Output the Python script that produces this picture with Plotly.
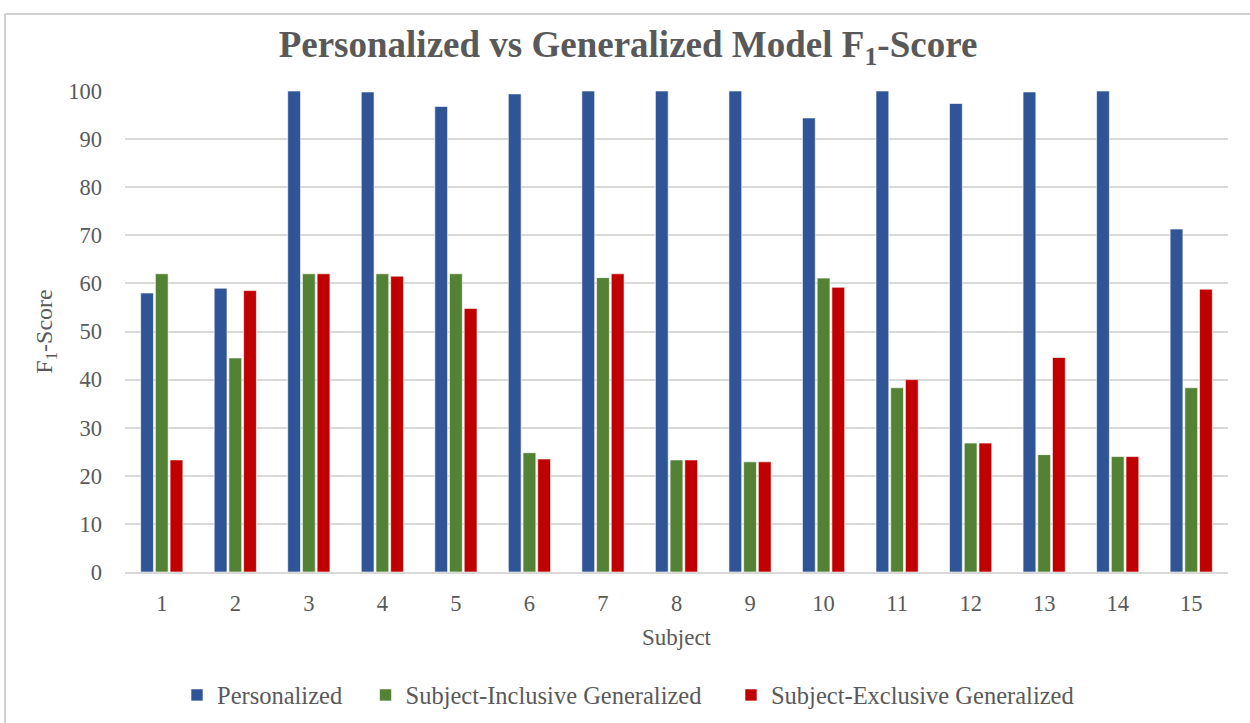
import plotly.graph_objects as go

subjects = [str(i) for i in range(1, 16)]
personalized = [58.0, 59.0, 100.0, 99.8, 96.8, 99.4, 100.0, 100.0, 100.0, 94.4, 100.0, 97.4, 99.8, 100.0, 71.3]
inclusive = [62.0, 44.5, 62.0, 62.0, 62.0, 24.8, 61.2, 23.3, 22.9, 61.1, 38.3, 26.8, 24.4, 24.0, 38.3]
exclusive = [23.3, 58.5, 62.0, 61.5, 54.8, 23.5, 62.0, 23.3, 22.9, 59.2, 40.0, 26.8, 44.6, 24.0, 58.8]

names = ["Personalized", "Subject-Inclusive Generalized", "Subject-Exclusive Generalized"]
legend_pad = ["\u00a0\u00a0\u00a0", "\u00a0\u00a0\u00a0\u00a0", ""]
colors = ["#2F5597", "#548235", "#C00000"]

FONT = "Liberation Serif, Times New Roman, serif"
GREY = "#595959"

fig = go.Figure()
for name, pad, vals, col in zip(names, legend_pad, [personalized, inclusive, exclusive], colors):
    fig.add_trace(go.Bar(x=subjects, y=vals, name=name + pad,
                         marker=dict(color=col, line=dict(color="rgba(255,255,255,0.6)", width=1))))

L, R, T, B = 125, 22, 91, 151
W, H = 1250, 723
pw, ph = W - L - R, H - T - B

fig.update_layout(
    width=W, height=H,
    margin=dict(l=L, r=R, t=T, b=B, autoexpand=False),
    paper_bgcolor="white", plot_bgcolor="white",
    barmode="group", bargap=0.4, bargroupgap=0.13,
    font=dict(family=FONT, color=GREY, size=22),
    title=dict(text="<b>Personalized vs Generalized Model F<sub>1</sub>-Score</b>",
               x=628 / W, xanchor="center", y=1 - 44 / H, yanchor="middle",
               font=dict(family=FONT, size=37, color=GREY)),
    xaxis=dict(title=dict(text="Subject", font=dict(size=23, color=GREY), standoff=14),
               automargin=False,
               showgrid=False, showline=True, linecolor="#d9d9d9", linewidth=2,
               ticks="", ticklabelstandoff=10, tickfont=dict(size=22.5, color=GREY)),
    yaxis=dict(title=dict(text="F<sub>1</sub>-Score", font=dict(size=24, color=GREY), standoff=8),
               automargin=False,
               range=[0, 100], dtick=10, showgrid=True, gridcolor="#d9d9d9", gridwidth=2,
               zeroline=False, showline=False, ticks="", ticklabelstandoff=22,
               tickfont=dict(size=22.5, color=GREY)),
    legend=dict(orientation="h", x=(628 - L) / pw, xanchor="center", y=-(695 - 572) / ph, yanchor="middle",
                font=dict(size=24.5, color=GREY), tracegroupgap=0),
    shapes=[dict(type="line", xref="paper", yref="paper",
                 x0=(5 - L) / pw, x1=(1260 - L) / pw, y0=1 + (T - 14) / ph, y1=1 + (T - 14) / ph,
                 line=dict(color="#d0d0d0", width=2)),
            dict(type="line", xref="paper", yref="paper",
                 x0=(5 - L) / pw, x1=(5 - L) / pw, y0=1 + (T - 14) / ph, y1=-(B + 10) / ph,
                 line=dict(color="#d0d0d0", width=2))],
)

fig.write_html("out.html", config={"displayModeBar": False},
               post_script="document.body.style.margin='0';")
